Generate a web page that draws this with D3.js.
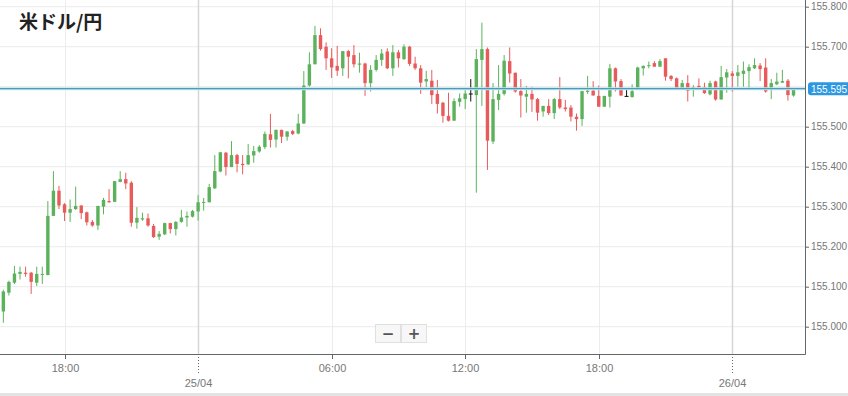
<!DOCTYPE html>
<html>
<head>
<meta charset="utf-8">
<script src="https://cdn.jsdelivr.net/npm/d3@7"></script>
<style>
  body { margin: 0; background: #fff; }
  svg { display: block; }
</style>
</head>
<body>
<script>
// 15分足 米ドル/円, 24/04 15:15 から
var startTime = new Date(2024, 3, 24, 15, 15);
var stepMin = 15;

var opens = [155.038,155.085,155.110,155.132,155.135,155.135,155.110,155.130,155.129,155.277,
  155.340,155.306,155.285,155.294,155.303,155.286,155.262,155.253,155.300,155.314,
  155.312,155.362,155.369,155.360,155.260,155.268,155.271,155.252,155.225,155.231,
  155.259,155.244,155.262,155.273,155.275,155.288,155.311,155.311,155.346,155.388,
  155.435,155.399,155.429,155.407,155.406,155.428,155.438,155.449,155.481,155.468,
  155.492,155.475,155.489,155.483,155.508,155.603,155.656,155.729,155.700,155.671,
  155.652,155.646,155.689,155.679,155.655,155.658,155.609,155.642,155.667,155.688,
  155.646,155.686,155.669,155.700,155.658,155.646,155.613,155.615,155.582,155.560,
  155.527,155.515,155.562,155.569,155.583,155.579,155.667,155.694,155.463,155.567,
  155.582,155.664,155.635,155.589,155.575,155.582,155.569,155.538,155.552,155.534,
  155.569,155.548,155.548,155.525,155.519,155.587,155.590,155.577,155.550,155.575,
  155.646,155.614,155.577,155.574,155.596,155.646,155.652,155.659,155.650,155.671,
  155.627,155.621,155.596,155.609,155.596,155.602,155.599,155.581,155.613,155.568,
  155.623,155.633,155.627,155.632,155.639,155.646,155.653,155.648,155.594,155.606,
  155.610,155.615,155.578];
var highs = [155.092,155.115,155.152,155.150,155.150,155.137,155.150,155.150,155.314,155.389,
  155.352,155.309,155.318,155.350,155.304,155.288,155.267,155.302,155.322,155.344,
  155.364,155.389,155.385,155.364,155.299,155.285,155.283,155.257,155.239,155.260,
  155.260,155.264,155.292,155.288,155.292,155.329,155.322,155.357,155.429,155.437,
  155.437,155.464,155.432,155.429,155.457,155.452,155.454,155.488,155.532,155.493,
  155.493,155.489,155.492,155.532,155.639,155.686,155.752,155.746,155.711,155.696,
  155.702,155.689,155.692,155.704,155.685,155.660,155.654,155.679,155.694,155.696,
  155.704,155.692,155.706,155.702,155.675,155.654,155.640,155.642,155.617,155.562,
  155.585,155.571,155.583,155.592,155.619,155.694,155.760,155.698,155.609,155.654,
  155.679,155.698,155.635,155.619,155.602,155.600,155.572,155.552,155.569,155.572,
  155.624,155.567,155.554,155.533,155.589,155.627,155.614,155.603,155.577,155.657,
  155.648,155.619,155.596,155.606,155.650,155.653,155.663,155.664,155.669,155.671,
  155.629,155.623,155.617,155.629,155.604,155.621,155.610,155.615,155.615,155.652,
  155.644,155.639,155.654,155.663,155.656,155.671,155.659,155.671,155.619,155.635,
  155.642,155.619,155.597];
var lows = [155.010,155.078,155.107,155.118,155.125,155.082,155.102,155.107,155.129,155.277,
  155.294,155.264,155.262,155.292,155.269,155.253,155.250,155.242,155.281,155.310,
  155.312,155.361,155.344,155.250,155.245,155.265,155.250,155.222,155.217,155.229,
  155.233,155.228,155.260,155.250,155.273,155.265,155.290,155.311,155.344,155.386,
  155.378,155.399,155.386,155.381,155.404,155.410,155.435,155.444,155.448,155.448,
  155.459,155.465,155.479,155.481,155.507,155.600,155.656,155.690,155.642,155.622,
  155.627,155.627,155.621,155.648,155.635,155.577,155.588,155.638,155.652,155.644,
  155.627,155.648,155.667,155.652,155.642,155.582,155.599,155.557,155.533,155.510,
  155.513,155.515,155.550,155.544,155.563,155.335,155.552,155.392,155.457,155.542,
  155.578,155.610,155.585,155.523,155.535,155.537,155.515,155.525,155.529,155.519,
  155.544,155.538,155.513,155.490,155.502,155.582,155.578,155.550,155.550,155.548,
  155.588,155.577,155.575,155.573,155.596,155.628,155.646,155.650,155.650,155.615,
  155.614,155.592,155.594,155.563,155.575,155.594,155.582,155.578,155.565,155.568,
  155.585,155.588,155.600,155.600,155.596,155.644,155.614,155.585,155.569,155.604,
  155.610,155.565,155.575];
var closes = [155.088,155.112,155.133,155.137,155.132,155.112,155.132,155.132,155.277,155.340,
  155.303,155.285,155.294,155.302,155.284,155.261,155.253,155.302,155.317,155.311,
  155.364,155.369,155.358,155.260,155.272,155.271,155.253,155.224,155.232,155.259,
  155.244,155.262,155.273,155.277,155.289,155.311,155.312,155.349,155.389,155.436,
  155.399,155.429,155.407,155.404,155.429,155.439,155.450,155.482,155.467,155.492,
  155.475,155.488,155.482,155.508,155.603,155.656,155.729,155.694,155.671,155.648,
  155.640,155.689,155.675,155.656,155.658,155.609,155.642,155.667,155.683,155.646,
  155.686,155.671,155.700,155.657,155.646,155.610,155.619,155.579,155.557,155.527,
  155.515,155.564,155.571,155.583,155.583,155.669,155.694,155.465,155.569,155.582,
  155.665,155.633,155.588,155.578,155.582,155.568,155.535,155.552,155.534,155.569,
  155.548,155.544,155.525,155.519,155.589,155.590,155.578,155.550,155.577,155.646,
  155.613,155.578,155.577,155.589,155.648,155.652,155.654,155.650,155.664,155.625,
  155.619,155.596,155.609,155.590,155.599,155.599,155.584,155.609,155.568,155.624,
  155.636,155.627,155.636,155.640,155.649,155.654,155.644,155.588,155.609,155.613,
  155.614,155.579,155.595];

var yTicks = [155.0, 155.1, 155.2, 155.3, 155.4, 155.5, 155.6, 155.7, 155.8];
var title = "米ドル/円";

var W = 848, H = 396;
var plotR = 805, plotB = 354;
var upColor = "#5cb25c", downColor = "#e85b5b", dojiColor = "#111";

var candles = opens.map(function(o, i){
  return {
    t: new Date(startTime.getTime() + i*stepMin*60000),
    o: o, h: highs[i], l: lows[i], c: closes[i]
  };
});
var last = candles[candles.length-1].c;

var x = d3.scaleTime()
  .domain([new Date(2024, 3, 24, 15, 6), new Date(2024, 3, 26, 3, 16)])
  .range([0, plotR]);
var y = d3.scaleLinear().domain([155.0, 155.8]).range([326.7, 6.7]);

var svg = d3.select("body").append("svg").attr("width", W).attr("height", H);

// grid
var xTicks = x.ticks(d3.timeHour.every(6));
var isDay = function(d){ return d.getHours() === 0; };

svg.append("g").selectAll("line").data(yTicks).enter().append("line")
  .attr("x1", 0).attr("x2", plotR)
  .attr("y1", function(d){ return y(d); }).attr("y2", function(d){ return y(d); })
  .attr("stroke", "#ebebeb").attr("stroke-width", 1);

svg.append("g").selectAll("line").data(xTicks).enter().append("line")
  .attr("x1", function(d){ return Math.round(x(d)) + 0.5; })
  .attr("x2", function(d){ return Math.round(x(d)) + 0.5; })
  .attr("y1", 0).attr("y2", plotB)
  .attr("stroke", function(d){ return isDay(d) ? "#d6d6d6" : "#ececec"; })
  .attr("stroke-width", function(d){ return isDay(d) ? 1.5 : 1; });

// title
svg.append("text").attr("x", 19).attr("y", 29)
  .attr("font-family", "'Noto Sans CJK JP', sans-serif")
  .attr("font-weight", "bold").attr("font-size", 19).attr("fill", "#222")
  .text(title);

// candles
var bw = 3.4;
var g = svg.append("g");
var cg = g.selectAll("g.candle").data(candles).enter().append("g").attr("class", "candle");
var col = function(d){ return d.c > d.o ? upColor : (d.c < d.o ? downColor : dojiColor); };

cg.append("line")
  .attr("x1", function(d){ return x(d.t); }).attr("x2", function(d){ return x(d.t); })
  .attr("y1", function(d){ return y(d.h); }).attr("y2", function(d){ return y(d.l); })
  .attr("stroke", col).attr("stroke-width", 1);

cg.append("rect")
  .attr("x", function(d){ return d.o === d.c ? x(d.t) - 2 : x(d.t) - bw/2; })
  .attr("width", function(d){ return d.o === d.c ? 4 : bw; })
  .attr("y", function(d){ return y(Math.max(d.o, d.c)); })
  .attr("height", function(d){ return Math.max(1, Math.abs(y(d.o) - y(d.c))); })
  .attr("fill", col);

// current price line
svg.append("line").attr("x1", 0).attr("x2", plotR)
  .attr("y1", y(last)).attr("y2", y(last))
  .attr("stroke", "#c4e4ec").attr("stroke-width", 3);
svg.append("line").attr("x1", 0).attr("x2", plotR)
  .attr("y1", y(last)).attr("y2", y(last))
  .attr("stroke", "#2b8db3").attr("stroke-width", 1);

// axes (the label under the price tag is hidden)
var yShown = yTicks.filter(function(v){ return Math.abs(y(v) - y(last)) > 12; });
var yAxis = d3.axisRight(y).tickValues(yShown).tickSize(4).tickPadding(2)
  .tickFormat(d3.format(".3f"));
var ya = svg.append("g").attr("transform", "translate(" + plotR + ",0)").call(yAxis);
ya.select(".domain").remove();
ya.append("line").attr("x1", 0.5).attr("x2", 0.5).attr("y1", 0).attr("y2", plotB + 0.5)
  .attr("stroke", "#666");
ya.selectAll(".tick line").attr("stroke", "#666");
ya.selectAll(".tick text").attr("fill", "#777")
  .attr("font-family", "'Liberation Sans', Arial, sans-serif").attr("font-size", 10);

var xa = svg.append("g").attr("transform", "translate(0," + plotB + ")");
xa.append("line").attr("x1", 0).attr("x2", plotR + 0.5).attr("y1", 0.5).attr("y2", 0.5)
  .attr("stroke", "#666");
var xt = xa.selectAll("g.xtick").data(xTicks).enter().append("g")
  .attr("transform", function(d){ return "translate(" + (Math.round(x(d)) + 0.5) + ",0)"; });
xt.append("line").attr("y1", 0).attr("y2", function(d){ return isDay(d) ? 19 : 5; })
  .attr("stroke", "#666")
  .attr("stroke-dasharray", function(d){ return isDay(d) ? "1,2" : null; });
xt.append("text")
  .attr("y", function(d){ return isDay(d) ? 33 : 18; })
  .attr("text-anchor", "middle")
  .attr("fill", "#777")
  .attr("font-family", "'Liberation Sans', Arial, sans-serif").attr("font-size", 11)
  .text(function(d){ return isDay(d) ? d3.timeFormat("%d/%m")(d) : d3.timeFormat("%H:%M")(d); });

// price tag
var tag = svg.append("g").attr("transform", "translate(808," + y(last) + ")");
tag.append("rect").attr("x", 0).attr("y", -6.5).attr("width", 42).attr("height", 13)
  .attr("rx", 3).attr("fill", "#2d98e0");
tag.append("text").attr("x", 3).attr("y", 4).attr("fill", "#fff")
  .attr("font-family", "'Liberation Sans', Arial, sans-serif").attr("font-size", 10)
  .text(d3.format(".3f")(last));

// zoom buttons
var btn = svg.append("g").attr("transform", "translate(375,324)");
["−", "+"].forEach(function(s, i){
  var b = btn.append("g").attr("transform", "translate(" + (i*26) + ",0)");
  b.append("rect").attr("x", 0.5).attr("y", 0.5).attr("width", 25).attr("height", 18)
    .attr("fill", "#f7f7f7").attr("stroke", "#e0e0e0");
  b.append("text").attr("x", 13).attr("y", 14.5).attr("text-anchor", "middle")
    .attr("font-family", "'DejaVu Sans', sans-serif").attr("font-weight", "bold")
    .attr("font-size", 15).attr("fill", "#555").text(s);
});

// bottom band
svg.append("rect").attr("x", 0).attr("y", 393).attr("width", W).attr("height", 3)
  .attr("fill", "#e3e3e3");
</script>
</body>
</html>
